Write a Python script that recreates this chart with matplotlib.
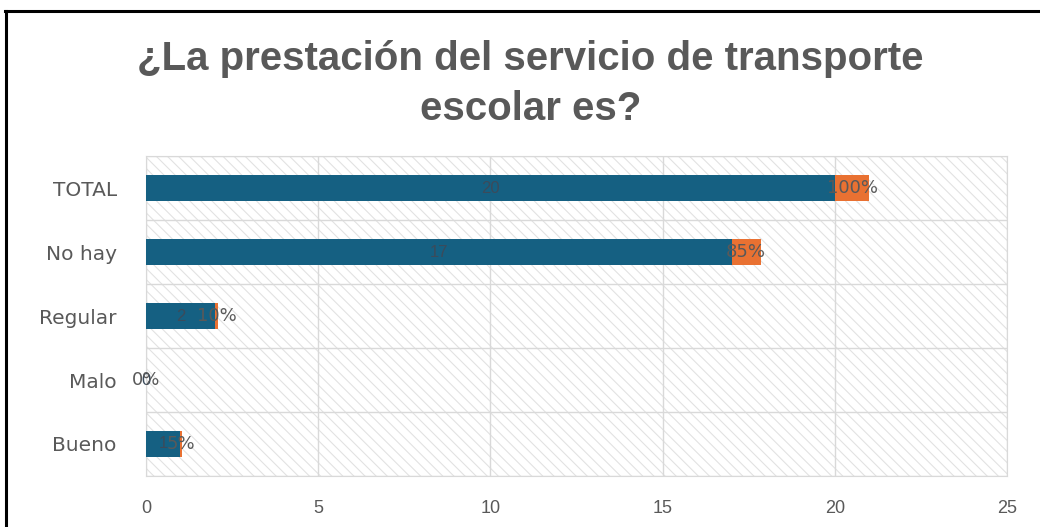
import matplotlib
matplotlib.use('Agg')
from matplotlib import pyplot as plt
from matplotlib.lines import Line2D
from matplotlib.patches import Rectangle
import numpy as np

# survey answers (bottom to top as drawn)
categories = ['Bueno', 'Malo', 'Regular', 'No hay', 'TOTAL']
counts = [1, 0, 2, 17, 20]
shares = [0.05, 0.0, 0.10, 0.85, 1.00]
share_labels = ['5%', '0%', '10%', '85%', '100%']
x_ticks = [0, 5, 10, 15, 20, 25]

title = '¿La prestación del servicio de transporte\nescolar es?'

BLUE = '#156082'
ORANGE = '#E97132'
GREY = '#595959'

plt.rcParams['font.family'] = ['Liberation Sans', 'DejaVu Sans']
plt.rcParams['hatch.linewidth'] = 0.8


def make_figure():
    fig = plt.figure(figsize=(10.4, 5.27), dpi=100)
    fig.patch.set_facecolor('white')
    ax = fig.add_axes([0.1404, 0.0968, 0.8279, 0.607])

    y = np.arange(len(categories))
    ax.barh(y, counts, height=0.4, color=BLUE, zorder=3)
    ax.barh(y, shares, left=counts, height=0.4, color=ORANGE, zorder=3)

    for yi, c, s, lab in zip(y, counts, shares, share_labels):
        ax.text(c / 2, yi, str(c), ha='center', va='center',
                fontsize=12, color='#3b4b5b', zorder=4)
        ax.text(c + s / 2, yi, lab, ha='center', va='center',
                fontsize=13, color=GREY, family='DejaVu Sans', zorder=4)

    ax.set_xlim(0, 25)
    ax.set_ylim(-0.5, len(categories) - 0.5)
    ax.set_xticks(x_ticks)
    ax.set_yticks(y)
    ax.set_yticklabels(categories, family='DejaVu Sans')
    ax.set_yticks(np.arange(-0.5, len(categories), 1.0), minor=True)
    ax.tick_params(axis='x', length=0, pad=17, labelsize=13, labelcolor=GREY)
    ax.tick_params(axis='y', which='both', length=0, pad=21, labelsize=14.5, labelcolor=GREY)

    ax.grid(axis='x', color='#d9d9d9', lw=1, zorder=1)
    ax.grid(axis='y', which='minor', color='#d9d9d9', lw=1, zorder=1)
    ax.grid(axis='y', which='major', visible=False)
    for sp in ax.spines.values():
        sp.set_color('#d9d9d9')

    # light diagonal hatching behind the bars
    ax.add_patch(Rectangle((0, 0), 1, 1, transform=ax.transAxes, facecolor='none',
                           edgecolor='#e2e2e2', hatch='\\\\\\', lw=0, zorder=0))

    fig.text(0.51, 0.840, title, ha='center', va='center', fontsize=29,
             weight='bold', color=GREY, linespacing=1.4)

    # black frame (top and left edges of the screenshot)
    fig.add_artist(Line2D([0.005, 1.0], [0.979, 0.979], color='black', lw=2.2,
                          transform=fig.transFigure))
    fig.add_artist(Line2D([0.006, 0.006], [0.0, 0.979], color='black', lw=2.2,
                          transform=fig.transFigure))
    return fig


def main():
    fig = make_figure()
    fig.savefig('out.png', dpi=100)


if __name__ == '__main__':
    main()
